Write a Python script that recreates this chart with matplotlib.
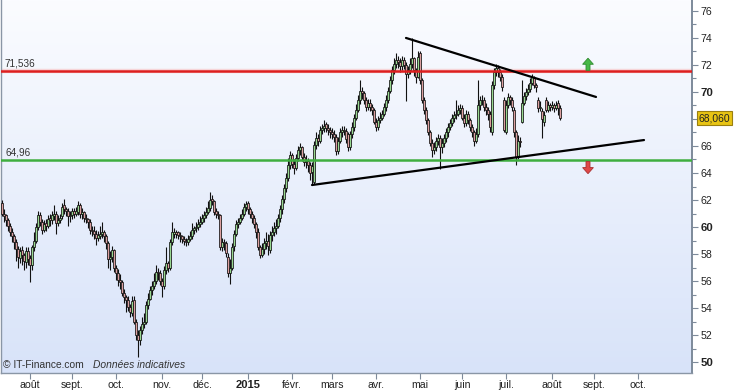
import numpy as np
import pandas as pd
import matplotlib
matplotlib.use("Agg")
import matplotlib.pyplot as plt
from matplotlib.colors import LinearSegmentedColormap
from matplotlib.patches import FancyArrow
import matplotlib.transforms as mtransforms

plt.rcParams['font.family'] = ['Liberation Sans', 'DejaVu Sans']

# ---------------- data ----------------
start_date = "2014-07-14"
closes = [
    61.0, 60.8, 60.5, 60.1, 59.6, 59.3, 58.9, 58.4, 57.8, 58.2,
    57.9, 57.5, 58.2, 57.6, 57.2, 58.5, 59.0, 60.0, 60.9, 60.4,
    59.8, 60.2, 60.1, 60.6, 60.5, 60.9, 61.0, 60.3, 60.5, 60.7,
    61.5, 61.3, 61.2, 60.8, 60.9, 61.2, 61.0, 61.2, 61.6, 61.0,
    61.1, 60.7, 60.6, 60.4, 59.8, 59.7, 59.5, 59.2, 59.4, 59.5,
    59.6, 59.3, 58.8, 57.6, 57.8, 58.3, 57.0, 56.6, 56.1, 55.9,
    55.1, 54.8, 54.6, 54.1, 53.7, 54.5, 53.0, 52.0, 51.6, 52.4,
    52.8, 53.0, 54.2, 54.7, 55.3, 55.6, 56.0, 56.7, 56.6, 56.0,
    55.6, 56.8, 57.3, 57.0, 58.9, 59.6, 59.6, 59.5, 59.4, 59.3,
    59.1, 59.0, 58.9, 59.1, 59.3, 59.8, 59.9, 60.0, 60.2, 60.4,
    60.7, 60.9, 61.1, 61.4, 62.0, 61.9, 61.1, 61.0, 60.9, 58.5,
    58.9, 58.8, 58.1, 56.6, 57.0, 58.5, 59.5, 60.2, 60.4, 60.7,
    61.0, 61.5, 61.7, 61.3, 61.0, 60.7, 60.2, 59.6, 58.5, 57.9,
    58.4, 58.8, 59.0, 58.6, 59.4, 59.6, 59.9, 60.1, 60.7, 61.3,
    62.1, 62.9, 63.6, 64.6, 65.3, 64.7, 64.4, 65.1, 65.7, 65.9,
    65.2, 64.8, 64.9, 64.6, 64.0, 64.5, 66.1, 66.6, 66.4, 67.2,
    67.3, 67.5, 67.3, 67.2, 67.0, 66.9, 66.7, 65.6, 66.4, 67.0,
    67.2, 67.1, 66.5, 65.9, 66.9, 67.4, 68.1, 68.7, 69.4, 70.1,
    69.9, 69.4, 68.9, 69.2, 68.9, 68.7, 67.8, 67.4, 67.9, 68.1,
    68.4, 68.9, 69.4, 70.1, 70.9, 71.6, 72.1, 72.4, 72.2, 71.9,
    72.4, 72.0, 71.3, 71.6, 72.1, 72.5, 71.6, 71.1, 72.6, 70.9,
    69.4, 68.7, 67.9, 67.0, 66.2, 65.7, 65.9, 66.4, 66.6, 65.9,
    66.2, 66.6, 67.0, 67.4, 67.7, 68.1, 68.3, 68.4, 68.7, 68.8,
    68.1, 67.7, 68.4, 67.9, 67.4, 67.0, 66.4, 66.9, 69.0, 69.4,
    69.4, 68.9, 68.7, 68.4, 67.4, 70.5, 71.5, 71.8, 71.5, 71.1,
    70.4, 67.2, 69.0, 69.6, 69.4, 68.9, 67.0, 65.2, 66.4, 66.3,
    69.2, 69.7, 70.0, 70.2, 70.7, 71.1, 70.5, 70.4, 68.8, 68.9,
    68.0, 68.3, 68.7, 69.0, 68.9, 69.0, 68.8, 69.0, 68.8, 68.06,
]
opens = [
    61.8, 61.0, 60.9, 60.5, 60.1, 59.6, 59.3, 58.9, 58.4, 57.7,
    58.3, 57.9, 57.4, 58.2, 57.7, 57.2, 58.5, 59.0, 60.0, 60.9,
    60.4, 59.8, 60.3, 60.1, 60.7, 60.5, 60.8, 61.0, 60.3, 60.5,
    60.8, 61.6, 61.3, 61.2, 60.8, 60.9, 61.2, 61.0, 61.1, 61.6,
    61.0, 61.1, 60.7, 60.6, 60.4, 59.8, 59.7, 59.5, 59.2, 59.3,
    59.5, 59.6, 59.3, 58.8, 57.6, 57.8, 58.3, 57.0, 56.6, 56.1,
    55.9, 55.1, 54.8, 54.6, 54.1, 53.6, 54.6, 53.0, 52.0, 51.6,
    52.4, 52.8, 53.0, 54.2, 54.7, 55.3, 55.6, 56.0, 56.7, 56.6,
    56.0, 55.6, 56.8, 57.3, 57.0, 58.9, 59.5, 59.6, 59.6, 59.4,
    59.3, 59.1, 59.0, 58.9, 59.1, 59.3, 59.8, 59.9, 60.0, 60.2,
    60.4, 60.7, 60.9, 61.1, 61.4, 62.1, 61.9, 61.2, 61.0, 60.9,
    58.5, 58.9, 58.8, 57.8, 56.6, 57.0, 58.6, 59.5, 60.2, 60.4,
    60.7, 61.0, 61.5, 61.8, 61.3, 61.0, 60.7, 60.2, 59.6, 58.5,
    57.9, 58.4, 58.8, 59.0, 58.3, 59.4, 59.6, 59.9, 60.1, 60.7,
    61.3, 62.1, 62.9, 63.6, 64.6, 65.3, 64.7, 64.4, 65.1, 65.7,
    65.9, 65.2, 64.8, 64.9, 64.6, 64.1, 63.3, 66.1, 66.6, 66.4,
    67.2, 67.3, 67.6, 67.3, 67.2, 67.0, 66.9, 66.7, 65.6, 66.4,
    67.0, 67.2, 67.1, 66.9, 65.9, 66.9, 67.4, 68.1, 68.7, 69.4,
    70.1, 69.9, 69.4, 68.9, 69.2, 68.9, 68.7, 67.8, 67.4, 67.9,
    68.1, 68.4, 68.9, 69.4, 70.1, 70.9, 71.6, 72.1, 72.4, 72.2,
    71.9, 72.4, 72.0, 71.3, 71.6, 72.1, 72.5, 71.6, 71.1, 72.9,
    70.9, 69.4, 68.7, 67.9, 67.0, 66.2, 65.7, 65.9, 66.4, 66.6,
    65.9, 66.2, 66.6, 67.0, 67.4, 67.7, 68.1, 68.3, 68.4, 68.7,
    68.8, 68.1, 67.7, 68.4, 67.9, 67.4, 67.0, 66.4, 66.9, 69.0,
    69.4, 69.4, 68.9, 68.7, 68.4, 67.0, 70.5, 71.5, 71.8, 71.5,
    71.1, 69.4, 67.0, 69.0, 69.6, 69.4, 68.7, 67.0, 65.2, 66.4,
    67.8, 69.2, 69.7, 70.0, 70.2, 70.7, 71.0, 70.5, 69.4, 68.8,
    68.6, 67.8, 69.4, 68.7, 69.0, 68.9, 69.0, 68.8, 69.2, 68.8,
]
highs = [
    62.0, 61.3, 61.0, 60.7, 60.3, 59.9, 59.5, 59.1, 58.6, 58.5,
    58.6, 58.1, 58.5, 58.5, 57.9, 58.7, 59.6, 60.3, 61.2, 61.1,
    60.6, 60.5, 60.6, 60.9, 61.0, 61.2, 61.6, 61.2, 60.9, 61.0,
    61.8, 62.1, 61.5, 61.4, 61.2, 61.4, 61.4, 61.5, 61.9, 61.8,
    61.4, 61.2, 61.0, 60.7, 60.6, 60.1, 60.1, 59.8, 59.7, 60.1,
    60.4, 59.8, 59.5, 59.0, 58.2, 58.6, 58.4, 57.2, 56.9, 56.5,
    56.1, 55.4, 55.0, 54.9, 54.3, 54.9, 54.9, 53.2, 52.4, 52.7,
    53.3, 53.6, 54.5, 55.1, 55.6, 56.0, 56.6, 57.2, 57.0, 56.8,
    56.2, 57.1, 58.5, 57.5, 59.1, 60.4, 59.9, 59.8, 59.7, 59.6,
    59.4, 59.3, 59.2, 59.4, 59.7, 60.3, 60.1, 60.4, 60.6, 60.8,
    61.0, 61.2, 61.5, 61.9, 62.6, 62.4, 62.0, 61.4, 61.2, 61.0,
    59.2, 59.1, 59.0, 58.1, 57.6, 58.8, 59.8, 60.5, 60.7, 61.0,
    61.3, 61.8, 61.9, 61.9, 61.5, 61.2, 60.9, 60.4, 59.9, 58.7,
    58.8, 59.2, 59.6, 59.5, 59.7, 60.1, 60.4, 60.6, 61.0, 61.6,
    62.4, 63.2, 64.0, 65.1, 65.6, 65.5, 65.0, 65.4, 66.0, 66.2,
    66.0, 65.5, 65.3, 65.1, 64.8, 64.8, 66.4, 67.0, 66.9, 67.5,
    67.6, 67.9, 67.8, 67.6, 67.4, 67.3, 67.2, 66.9, 66.7, 67.3,
    67.5, 67.5, 67.3, 67.0, 67.1, 67.8, 68.4, 69.1, 69.8, 70.9,
    70.4, 70.1, 69.6, 69.5, 69.5, 69.1, 68.8, 68.1, 68.2, 68.5,
    68.7, 69.2, 69.8, 70.4, 71.2, 71.9, 72.5, 72.9, 72.7, 72.5,
    72.7, 72.6, 72.2, 71.9, 72.5, 74.0, 72.6, 71.8, 73.0, 73.0,
    71.0, 69.6, 68.9, 68.1, 67.2, 66.5, 66.3, 66.7, 66.9, 66.8,
    66.6, 66.9, 67.3, 67.7, 68.0, 68.4, 68.6, 69.4, 69.0, 69.1,
    69.0, 68.4, 68.7, 68.6, 68.1, 67.6, 67.2, 67.3, 70.9, 69.7,
    69.8, 69.6, 69.2, 68.9, 68.6, 70.8, 71.8, 72.1, 72.0, 71.7,
    71.3, 69.6, 69.4, 69.9, 69.8, 69.6, 68.9, 67.2, 66.8, 66.7,
    70.9, 70.0, 70.3, 70.6, 71.0, 71.3, 71.2, 70.7, 69.6, 69.3,
    68.8, 68.6, 69.6, 69.3, 69.2, 69.3, 69.2, 69.3, 69.4, 69.0,
]
lows = [
    60.8, 60.4, 60.1, 59.7, 59.3, 58.9, 58.4, 57.5, 57.0, 57.3,
    57.2, 56.8, 57.0, 57.2, 55.9, 56.8, 58.2, 58.8, 59.8, 60.1,
    59.5, 59.6, 59.7, 59.9, 60.1, 60.2, 60.5, 59.5, 60.1, 60.3,
    60.6, 61.0, 60.8, 60.1, 60.4, 60.6, 60.7, 60.8, 60.9, 60.7,
    60.6, 60.4, 60.3, 59.9, 59.5, 59.3, 59.1, 58.7, 59.0, 59.1,
    59.2, 58.9, 58.4, 57.0, 56.8, 57.4, 56.7, 56.1, 55.6, 55.4,
    54.9, 54.4, 53.7, 53.8, 53.3, 53.4, 52.8, 51.6, 50.4, 51.3,
    52.1, 52.5, 52.8, 53.9, 54.6, 55.0, 55.4, 55.8, 56.1, 55.7,
    54.8, 55.4, 56.5, 56.7, 56.8, 58.7, 59.2, 59.2, 59.1, 58.9,
    58.8, 58.7, 58.6, 58.7, 59.0, 59.1, 59.5, 59.6, 59.8, 60.0,
    60.2, 60.4, 60.7, 61.0, 61.2, 61.6, 60.9, 60.7, 60.6, 58.3,
    58.2, 58.3, 57.8, 56.3, 55.8, 56.8, 58.2, 59.3, 59.9, 60.2,
    60.5, 60.8, 61.2, 61.0, 60.7, 60.3, 59.9, 59.2, 58.3, 57.7,
    57.8, 58.0, 58.4, 57.9, 58.1, 59.0, 59.3, 59.5, 59.9, 60.4,
    61.0, 61.8, 62.6, 63.4, 64.3, 64.4, 63.9, 64.2, 64.9, 65.3,
    64.9, 64.5, 64.4, 64.1, 63.5, 63.1, 63.2, 65.8, 66.0, 66.2,
    66.9, 67.0, 67.0, 66.8, 66.6, 66.5, 66.3, 65.3, 65.4, 66.2,
    66.7, 66.8, 66.2, 65.6, 65.7, 66.6, 67.1, 67.9, 68.5, 69.1,
    69.5, 69.1, 68.6, 68.7, 68.6, 68.3, 67.6, 67.1, 67.2, 67.7,
    67.9, 68.2, 68.6, 69.2, 69.9, 70.6, 71.3, 71.8, 71.8, 71.5,
    71.6, 71.7, 69.3, 71.0, 71.3, 71.8, 71.2, 70.7, 71.0, 70.6,
    69.2, 68.4, 67.6, 66.8, 66.0, 65.2, 65.4, 65.6, 66.1, 64.3,
    65.5, 65.9, 66.3, 66.7, 67.2, 67.5, 67.8, 68.0, 68.2, 68.4,
    67.9, 67.4, 67.5, 67.6, 67.1, 66.7, 66.0, 66.2, 66.7, 68.7,
    69.0, 68.6, 68.3, 67.9, 67.0, 66.8, 70.2, 71.2, 71.1, 70.8,
    70.1, 67.0, 66.9, 68.8, 69.0, 68.6, 66.7, 64.6, 65.0, 65.9,
    67.7, 69.0, 69.4, 69.8, 70.0, 70.5, 70.3, 70.0, 68.5, 68.6,
    66.6, 67.5, 68.5, 68.5, 68.6, 68.7, 68.5, 68.7, 68.3, 67.9,
]

resistance = 71.536
support = 64.96
last_price = 68.06

# trendlines: (date, value) endpoints
upper_line_dates = ["2015-04-22", "2015-09-02"]
upper_line_vals = [74.0, 69.63]
lower_line_dates = ["2015-02-16", "2015-10-06"]
lower_line_vals = [63.11, 66.44]

arrow_date = "2015-08-27"

month_labels = ['août', 'sept.', 'oct.', 'nov.', 'déc.', '2015', 'févr.', 'mars',
                'avr.', 'mai', 'juin', 'juil.', 'août', 'sept.', 'oct.']

# ---------------- index / positions ----------------
all_days = pd.bdate_range(start_date, "2015-10-31")
day_pos = pd.Series(np.arange(len(all_days)), index=all_days)
n = len(closes)
x = np.arange(n)
o = np.array(opens); c = np.array(closes); h = np.array(highs); l = np.array(lows)

def pos_of(d):
    return day_pos[day_pos.index >= pd.Timestamp(d)].iloc[0]

months = pd.Series(all_days.to_period('M'), index=all_days)
first_days = months[months != months.shift(1)].index[1:]
tick_pos = [day_pos[d] for d in first_days][:len(month_labels)]

# ---------------- figure ----------------
fig = plt.figure(figsize=(7.47, 3.91), dpi=100)
ax = fig.add_axes([1 / 747, 18 / 391, 691 / 747, 373 / 391])

xlim = (-0.5, 345)
ylim = (49.19, 76.81)

cmap = LinearSegmentedColormap.from_list("bg", ["#d8e3f9", "#fbfcff"])
grad = np.linspace(0, 1, 256).reshape(-1, 1)
ax.imshow(grad, extent=[xlim[0], xlim[1], ylim[0], ylim[1]], aspect='auto',
          cmap=cmap, origin='lower', zorder=0)

# candles
up = c >= o
body_w = 0.9
ax.vlines(x, l, h, color='#111111', linewidth=0.8, zorder=3)
ax.bar(x[up], (c - o)[up], bottom=o[up], width=body_w, color='#98d890',
       edgecolor='#111111', linewidth=0.55, zorder=4)
ax.bar(x[~up], (o - c)[~up], bottom=c[~up], width=body_w, color='#dca0a0',
       edgecolor='#111111', linewidth=0.55, zorder=4)

# horizontal levels
ax.axhline(resistance, color='#f6d4d8', linewidth=3.2, zorder=1.5)
ax.axhline(resistance, color='#dd1f1f', linewidth=1.8, zorder=5)
ax.axhline(support, color='#3fae3f', linewidth=1.8, zorder=5)
ax.text(1.5, resistance + 0.18, "71,536", fontsize=7.2, color='#333333',
        ha='left', va='bottom', zorder=6)
ax.text(1.5, support + 0.18, "64,96", fontsize=7.2, color='#333333',
        ha='left', va='bottom', zorder=6)

# trendlines
ax.plot([pos_of(d) for d in upper_line_dates], upper_line_vals, color='black',
        linewidth=1.6, zorder=6, solid_capstyle='round')
ax.plot([pos_of(d) for d in lower_line_dates], lower_line_vals, color='black',
        linewidth=1.6, zorder=6, solid_capstyle='round')

# arrows
ax_pos = pos_of(arrow_date)
ax.add_patch(FancyArrow(ax_pos, 71.6, 0, 0.9, width=2.0, head_width=5.4,
                        head_length=0.45, length_includes_head=True,
                        facecolor='#46b846', edgecolor='#2f8a2f', linewidth=0.6, zorder=6))
ax.add_patch(FancyArrow(ax_pos, 64.85, 0, -0.9, width=2.0, head_width=5.4,
                        head_length=0.45, length_includes_head=True,
                        facecolor='#e04848', edgecolor='#a83030', linewidth=0.6, zorder=6))

ax.set_xlim(*xlim)
ax.set_ylim(*ylim)

# axes styling
ax.spines['top'].set_visible(False)
for side in ['left', 'bottom']:
    ax.spines[side].set_color('#8a96a6')
    ax.spines[side].set_linewidth(1.0)
ax.spines['right'].set_color('#7d8a9a')
ax.spines['right'].set_linewidth(1.4)

ax.yaxis.tick_right()
yt = list(range(50, 77, 2))
# the 68 label is hidden behind the last-price tag in the reference
ax.set_yticks(yt, ['' if v == 68 else str(v) for v in yt])
ax.set_yticks(list(range(51, 77, 2)), minor=True)
ax.tick_params(axis='y', which='major', length=4, width=0.8, color='#7d8a9a',
               labelsize=7.6, labelcolor='#222222', pad=2)
ax.tick_params(axis='y', which='minor', length=3, width=0.8, color='#7d8a9a')
for lbl in ax.get_yticklabels():
    if lbl.get_text() in ('50', '60', '70'):
        lbl.set_fontweight('bold')
        lbl.set_fontsize(8.2)

ax.set_xticks(tick_pos, month_labels)
ax.tick_params(axis='x', which='major', length=4, width=0.8, color='#7d8a9a',
               labelsize=7.6, labelcolor='#222222', pad=1.0)
for lbl in ax.get_xticklabels():
    if lbl.get_text() == '2015':
        lbl.set_fontweight('bold')
        lbl.set_fontsize(8.0)

# last price tag
trans = mtransforms.blended_transform_factory(ax.transAxes, ax.transData)
ax.text(1.0095, last_price, "68,060", transform=trans, fontsize=7.4, color='#222222',
        ha='left', va='center', zorder=7, clip_on=False,
        bbox=dict(boxstyle='square,pad=0.18', facecolor='#e8c414',
                  edgecolor='#9a7f10', linewidth=0.8))

# footer
fig.text(3 / 747, 1 - 368 / 391, "© IT-Finance.com", fontsize=7.4, color='#333333',
         ha='left', va='baseline')
fig.text(93 / 747, 1 - 368 / 391, "Données indicatives", fontsize=7.4, color='#333333',
         ha='left', va='baseline', style='italic')

fig.savefig("out.png", dpi=100)
